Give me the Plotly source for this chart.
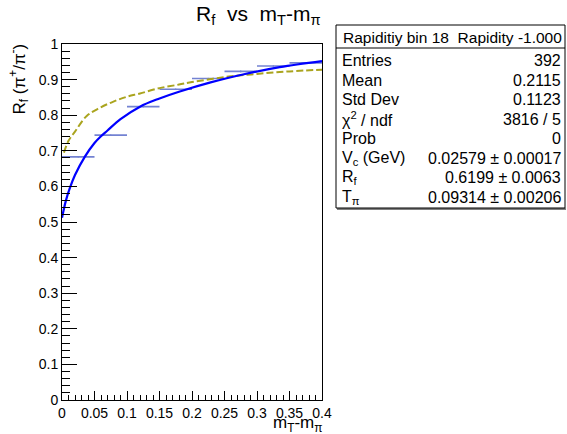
import plotly.graph_objects as go

# ---- data ----
bin_centers = [0.025, 0.075, 0.125, 0.175, 0.225, 0.275, 0.325, 0.375]
bin_halfwidth = [0.025] * 8
rf_values = [0.683, 0.744, 0.824, 0.873, 0.903, 0.923, 0.938, 0.947]
rf_errors = [0.002, 0.002, 0.002, 0.002, 0.002, 0.003, 0.002, 0.002]

fit_x = [0.0, 0.006, 0.012, 0.02, 0.035, 0.05, 0.06, 0.07, 0.09, 0.12, 0.15,
         0.18, 0.23, 0.28, 0.335, 0.4]
fit_y = [0.512, 0.56, 0.595, 0.632, 0.683, 0.722, 0.741, 0.757, 0.789, 0.824,
         0.847, 0.866, 0.893, 0.915, 0.935, 0.952]

alt_x = [0.003, 0.01, 0.02, 0.038, 0.0585, 0.08, 0.1, 0.12, 0.15, 0.18, 0.2,
         0.25, 0.3, 0.35, 0.4]
alt_y = [0.695, 0.728, 0.754, 0.798, 0.821, 0.839, 0.852, 0.861, 0.876, 0.886,
         0.893, 0.907, 0.916, 0.923, 0.928]

stats_header = "Rapiditiy bin 18  Rapidity -1.000"
stats_labels = ["Entries", "Mean", "Std Dev", "χ<sup>2</sup> / ndf", "Prob",
                "V<sub>c</sub> (GeV)", "R<sub>f</sub>", "T<sub>π</sub>"]
stats_values = ["392", "0.2115", "0.1123", "3816 / 5", "0",
                "0.02579 ± 0.00017", "0.6199 ± 0.0063", "0.09314 ± 0.00206"]

# ---- layout geometry (pixels) ----
W, H = 567, 434
L, R, T, B = 62, 322, 44, 400
FONT = "Liberation Sans, Arial, Helvetica, sans-serif"


def px(x):
    return (x - L) / (R - L)


def py(y):
    return (B - y) / (B - T)


fig = go.Figure()

fig.add_trace(go.Scatter(
    x=bin_centers, y=rf_values, mode="markers",
    marker=dict(size=1, color="#7382d2"),
    error_x=dict(type="data", array=bin_halfwidth, color="#7382d2",
                 thickness=1.6, width=0),
    error_y=dict(type="data", array=rf_errors, color="#7382d2",
                 thickness=1, width=0),
    showlegend=False, hoverinfo="skip"))

fig.add_trace(go.Scatter(
    x=alt_x, y=alt_y, mode="lines", line=dict(color="#aaa41e", width=2,
                                              dash="7px,3px", shape="spline"),
    showlegend=False))

fig.add_trace(go.Scatter(
    x=fit_x, y=fit_y, mode="lines", line=dict(color="#0000ff", width=2.2,
                                              shape="spline"),
    showlegend=False))

axis_common = dict(showgrid=False, zeroline=False, showline=True,
                   linecolor="black", linewidth=1, mirror=True,
                   ticks="inside", tickcolor="black",
                   tickfont=dict(family=FONT, size=14, color="black"))

fig.update_xaxes(range=[0, 0.4], dtick=0.05, tick0=0, ticklen=9,
                 minor=dict(ticks="inside", dtick=0.01, ticklen=5,
                            tickcolor="black"),
                 **axis_common)
fig.update_yaxes(range=[0, 1], dtick=0.1, tick0=0, ticklen=15,
                 minor=dict(ticks="inside", dtick=0.02, ticklen=8,
                            tickcolor="black"),
                 **axis_common)

annotations = [
    dict(text="R<sub>f</sub>  vs  m<sub>T</sub>-m<sub>π</sub>", x=px(258),
         y=py(15), xanchor="center", yanchor="middle",
         font=dict(family=FONT, size=21, color="black")),
    dict(text="R<sub>f</sub> (π<sup>+</sup>/π<sup>-</sup>)", x=px(19),
         y=py(42), xanchor="center", yanchor="top", textangle=-90,
         font=dict(family=FONT, size=17, color="black")),
    dict(text="m<sub>T</sub>-m<sub>π</sub>", x=px(323), y=py(424),
         xanchor="right", yanchor="middle", borderpad=0,
         font=dict(family=FONT, size=17, color="black")),
    dict(text=stats_header, x=px(452), y=py(37), xanchor="center",
         yanchor="middle", font=dict(family=FONT, size=15.5, color="black")),
]
row0, step = 60.5, 19.5
for i, (lab, val) in enumerate(zip(stats_labels, stats_values)):
    yy = row0 + i * step
    annotations.append(dict(text=lab, x=px(340), y=py(yy), xanchor="left",
                            yanchor="middle",
                            font=dict(family=FONT, size=16, color="black")))
    annotations.append(dict(text=val, x=px(563), y=py(yy), xanchor="right",
                            yanchor="middle",
                            font=dict(family=FONT, size=16, color="black")))
for a in annotations:
    a.update(xref="paper", yref="paper", showarrow=False)

shapes = [
    dict(type="rect", xref="paper", yref="paper", x0=px(336), x1=px(565),
         y0=py(208), y1=py(25), line=dict(color="black", width=1),
         fillcolor="white", layer="below"),
    dict(type="line", xref="paper", yref="paper", x0=px(336), x1=px(565),
         y0=py(48), y1=py(48), line=dict(color="black", width=1)),
    dict(type="line", xref="paper", yref="paper", x0=px(337), x1=px(566),
         y0=py(209), y1=py(209), line=dict(color="black", width=1)),
]

fig.update_layout(width=W, height=H, margin=dict(l=L, r=W - R, t=T, b=H - B),
                  paper_bgcolor="white", plot_bgcolor="white",
                  annotations=annotations, shapes=shapes,
                  font=dict(family=FONT))

fig.write_html("out.html", config={"displayModeBar": False},
               post_script="document.body.style.margin='0';"
                           "document.body.style.overflow='hidden';")
